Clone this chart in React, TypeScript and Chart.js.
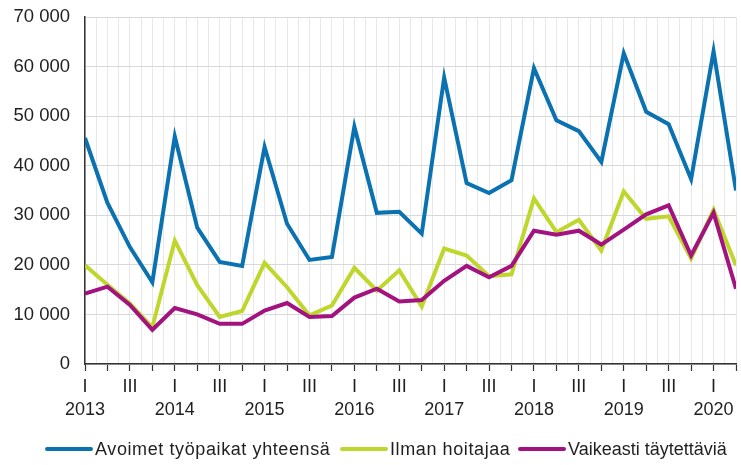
import React, { useEffect, useRef } from "react";
import { Chart, registerables } from "chart.js";

Chart.register(...registerables);

const years = ["2013", "2014", "2015", "2016", "2017", "2018", "2019", "2020"];
const quarterTickLabels = ["I", "", "III", ""];
const quarterCount = 30;

const seriesNames = ["Avoimet työpaikat yhteensä", "Ilman hoitajaa", "Vaikeasti täytettäviä"];
const seriesColors = ["#0a72b0", "#bfd62c", "#a3137f"];

const avoimet = [
  45600, 32500, 23600, 16500,
  45900, 27500, 20600, 19800,
  43800, 28300, 21000, 21600,
  47900, 30500, 30700, 26300,
  57800, 36500, 34500, 37100,
  59700, 49200, 47000, 40800,
  62700, 50900, 48400, 37300,
  63100, 35000,
];
const ilmanHoitajaa = [
  19900, 16000, 12200, 7400,
  24900, 15900, 9500, 10700,
  20400, 15500, 9800, 11800,
  19400, 14800, 18900, 11600,
  23300, 21900, 17700, 18100,
  33400, 26600, 29100, 22900,
  34800, 29300, 29800, 21300,
  31100, 19900,
];
const vaikeasti = [
  14200, 15600, 11900, 6900,
  11300, 10000, 8100, 8100,
  10800, 12300, 9500, 9700,
  13400, 15200, 12600, 12900,
  16800, 19800, 17500, 19800,
  26900, 26100, 26900, 24100,
  27100, 30200, 32000, 21900,
  30500, 15200,
];

const yTickValues = [0, 10000, 20000, 30000, 40000, 50000, 60000, 70000];

const legendLeft = [45, 340, 518];
const legendSpacing = ["0.6px", "0.6px", "0px"];

const fontFamily = "'Liberation Sans', Arial, sans-serif";

function formatThousands(v: number): string {
  return String(v).replace(/\B(?=(\d{3})+(?!\d))/g, " ");
}

export default function App() {
  const canvasRef = useRef<HTMLCanvasElement | null>(null);

  useEffect(() => {
    const canvas = canvasRef.current;
    if (!canvas) return;
    const allSeries = [avoimet, ilmanHoitajaa, vaikeasti];
    const orders = [2, 1, 0];
    const chart = new Chart(canvas, {
      type: "line",
      data: {
        datasets: allSeries.map((s, k) => ({
          label: seriesNames[k],
          data: s.map((v, i) => ({ x: i, y: v })),
          borderColor: seriesColors[k],
          backgroundColor: seriesColors[k],
          borderWidth: 4,
          pointRadius: 0,
          tension: 0,
          fill: false,
          order: orders[k],
        })),
      },
      options: {
        animation: false,
        responsive: true,
        maintainAspectRatio: false,
        layout: { padding: { top: 0, right: 0, left: 0, bottom: 0 } },
        plugins: { legend: { display: false }, tooltip: { enabled: false } },
        scales: {
          x: {
            type: "linear",
            min: 0,
            max: quarterCount - 1,
            afterFit: (scale: any) => {
              scale.height = 101;
            },
            border: { display: true, color: "#333333", width: 1.5 },
            grid: {
              display: true,
              drawTicks: true,
              tickLength: 7,
              color: "#e8e8e8",
              lineWidth: 1,
              tickColor: (ctx: any) =>
                ctx.tick && Number.isInteger(ctx.tick.value) ? "#333333" : "rgba(0,0,0,0)",
              tickWidth: 1.2,
            },
            ticks: {
              stepSize: 0.5,
              autoSkip: false,
              maxRotation: 0,
              minRotation: 0,
              padding: 5,
              color: "#1f1f1f",
              font: { family: fontFamily, size: 18, lineHeight: 1.25 },
              callback: (value: any) => {
                const v = Number(value);
                if (!Number.isInteger(v)) return "";
                const q = v % 4;
                const yr = Math.floor(v / 4);
                if (q === 0) return [quarterTickLabels[0], years[yr]];
                return quarterTickLabels[q];
              },
            },
          },
          y: {
            min: yTickValues[0],
            max: yTickValues[yTickValues.length - 1],
            afterFit: (scale: any) => {
              scale.width = 85;
            },
            border: { display: true, color: "#333333", width: 1.5 },
            grid: {
              display: true,
              drawTicks: false,
              color: "#d9d9d9",
              lineWidth: 1,
            },
            afterBuildTicks: (scale: any) => {
              scale.ticks = yTickValues.map((v) => ({ value: v }));
            },
            ticks: {
              padding: 15,
              color: "#1f1f1f",
              font: { family: fontFamily, size: 18.5 },
              callback: (value: any) => formatThousands(Number(value)),
            },
          },
        },
      },
    });
    return () => chart.destroy();
  }, []);

  return (
    <div
      style={{
        position: "fixed",
        left: 0,
        top: 0,
        width: 741,
        height: 465,
        background: "#ffffff",
        overflow: "hidden",
      }}
    >
      <div style={{ position: "absolute", left: 0, top: -9, width: 741, height: 474 }}>
        <canvas ref={canvasRef} style={{ display: "block" }} />
      </div>
      {seriesNames.map((name, k) => (
        <div
          key={name}
          style={{
            position: "absolute",
            left: legendLeft[k],
            top: 437,
            height: 24,
            display: "flex",
            alignItems: "center",
            fontFamily,
            fontSize: 18,
            color: "#1f1f1f",
            whiteSpace: "nowrap",
            letterSpacing: legendSpacing[k],
          }}
        >
          <span
            style={{
              display: "inline-block",
              width: 48,
              height: 4,
              borderRadius: 2,
              background: seriesColors[k],
              marginRight: 2,
            }}
          />
          <span>{name}</span>
        </div>
      ))}
    </div>
  );
}
